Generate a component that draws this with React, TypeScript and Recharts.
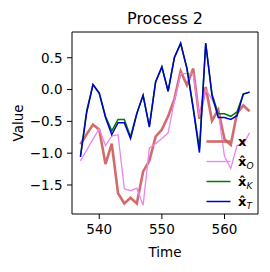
import React from 'react';
import { LineChart, Line, XAxis, YAxis, Label, Legend } from 'recharts';

const times = [537, 538, 539, 540, 541, 542, 543, 544, 545, 546, 547, 548, 549, 550, 551, 552, 553, 554, 555, 556, 557, 558, 559, 560, 561, 562, 563, 564];
const xTrue = [-0.86, -0.70, -0.55, -0.63, -1.17, -0.85, -1.63, -1.79, -1.70, -1.79, -1.29, -1.12, -0.74, -0.63, -0.42, -0.15, 0.29, 0.07, 0.33, -0.46, 0.04, -0.49, -0.32, -0.78, -0.87, -0.37, -0.25, -0.34];
const xO = [-1.12, -0.95, -0.78, -0.62, -0.88, -0.73, -0.71, -1.56, -1.59, -1.55, -1.82, -0.92, -0.85, -0.77, -0.68, -0.18, 0.25, 0.25, 0.25, -0.42, 0.0, -0.15, -0.35, -1.05, -1.24, -0.88, -0.86, -0.68];
const xK = [-1.04, -0.33, 0.08, -0.05, -0.42, -0.65, -0.47, -0.47, -0.74, -0.37, -0.09, -0.57, 0.12, 0.35, -0.02, 0.51, 0.72, 0.34, -0.27, -0.93, 0.72, -0.07, -0.38, -0.38, -0.42, -0.35, -0.07, -0.04];
const xT = [-1.06, -0.36, 0.08, -0.06, -0.44, -0.71, -0.52, -0.52, -0.77, -0.38, -0.09, -0.59, 0.12, 0.36, -0.03, 0.50, 0.73, 0.33, -0.30, -0.99, 0.73, -0.09, -0.44, -0.44, -0.47, -0.41, -0.07, -0.04];

const xTicks = [540, 550, 560];
const yTicks = [-1.5, -1.0, -0.5, 0.0, 0.5];

const data = times.map((t, i) => ({ t, x: xTrue[i], o: xO[i], k: xK[i], tt: xT[i] }));

const xDomain = [535.65, 565.35];
const yDomain = [-1.956, 0.905];

const font = 'DejaVu Sans';
const tickStyle = { fontSize: 13.5, fill: '#000', fontFamily: font };

const fmtY = (v: number) => {
  const s = v.toFixed(1);
  return s.startsWith('-') ? '\u2212' + s.slice(1) : s;
};

const legendItems = [
  { color: '#cd5c5c', width: 2.6, opacity: 0.9, sub: '', hat: false },
  { color: '#ee82ee', width: 1.3, opacity: 1, sub: 'O', hat: true },
  { color: '#007a00', width: 1.5, opacity: 1, sub: 'K', hat: true },
  { color: '#0000cc', width: 1.5, opacity: 1, sub: 'T', hat: true },
];

const LegendContent = () => (
  <svg width={70} height={82} style={{ display: 'block' }}>
    {legendItems.map((it, i) => {
      const y = 11.5 + i * 20;
      return (
        <g key={i}>
          <line x1={6.5} x2={30.5} y1={y} y2={y} stroke={it.color} strokeWidth={it.width} strokeOpacity={it.opacity} />
          <text x={38} y={y + 4.5} fontFamily={font} fontSize={13} fill="#000">
            <tspan fontWeight="bold">{it.hat ? 'x\u0302' : 'x'}</tspan>
            {it.sub ? (
              <tspan fontStyle="italic" fontSize={9} dy={3}>{it.sub}</tspan>
            ) : null}
          </text>
        </g>
      );
    })}
  </svg>
);

export default function App() {
  return (
    <div style={{ position: 'absolute', left: 0, top: 0 }}>
      <LineChart width={270} height={272} data={data} margin={{ top: 0, right: 0, bottom: 15, left: 0 }}>
        <XAxis
          xAxisId="b"
          dataKey="t"
          type="number"
          domain={xDomain}
          allowDataOverflow
          ticks={xTicks}
          height={43}
          tickSize={5}
          tickMargin={5}
          tick={tickStyle}
          stroke="#000"
          axisLine={{ stroke: '#000', strokeWidth: 1 }}
          tickLine={{ stroke: '#000' }}
        >
          <Label value="Time" position="insideBottom" offset={0} style={{ fontSize: 13.5, fill: '#000', fontFamily: font }} />
        </XAxis>
        <XAxis
          xAxisId="top"
          orientation="top"
          dataKey="t"
          type="number"
          domain={xDomain}
          allowDataOverflow
          height={32}
          tick={false}
          tickLine={false}
          axisLine={{ stroke: '#000', strokeWidth: 1 }}
        >
          <Label value="Process 2" position="insideBottom" offset={8} style={{ fontSize: 16, fill: '#000', fontFamily: font }} />
        </XAxis>
        <YAxis
          yAxisId="l"
          type="number"
          domain={yDomain}
          allowDataOverflow
          ticks={yTicks}
          tickFormatter={fmtY}
          width={72}
          tickSize={5}
          tickMargin={4.5}
          tick={tickStyle}
          axisLine={{ stroke: '#000', strokeWidth: 1 }}
          tickLine={{ stroke: '#000' }}
        >
          <Label value="Value" angle={-90} position="insideLeft" offset={18} style={{ fontSize: 13.5, fill: '#000', fontFamily: font, textAnchor: 'middle' }} />
        </YAxis>
        <YAxis
          yAxisId="r"
          orientation="right"
          type="number"
          domain={yDomain}
          allowDataOverflow
          width={12}
          tick={false}
          tickLine={false}
          axisLine={{ stroke: '#000', strokeWidth: 1 }}
        />
        <Line xAxisId="b" yAxisId="l" dataKey="x" stroke="#cd5c5c" strokeOpacity={0.9} strokeWidth={2.6} dot={false} activeDot={false} isAnimationActive={false} />
        <Line xAxisId="b" yAxisId="l" dataKey="o" stroke="#ee82ee" strokeWidth={1.3} dot={false} activeDot={false} isAnimationActive={false} />
        <Line xAxisId="b" yAxisId="l" dataKey="k" stroke="#007a00" strokeWidth={1.5} dot={false} activeDot={false} isAnimationActive={false} />
        <Line xAxisId="b" yAxisId="l" dataKey="tt" stroke="#0000cc" strokeWidth={1.5} dot={false} activeDot={false} isAnimationActive={false} />
        <Legend
          layout="vertical"
          align="center"
          verticalAlign="middle"
          content={() => <LegendContent />}
          wrapperStyle={{ position: 'absolute', left: 200, top: 130, width: 70, height: 82 }}
        />
      </LineChart>
    </div>
  );
}
